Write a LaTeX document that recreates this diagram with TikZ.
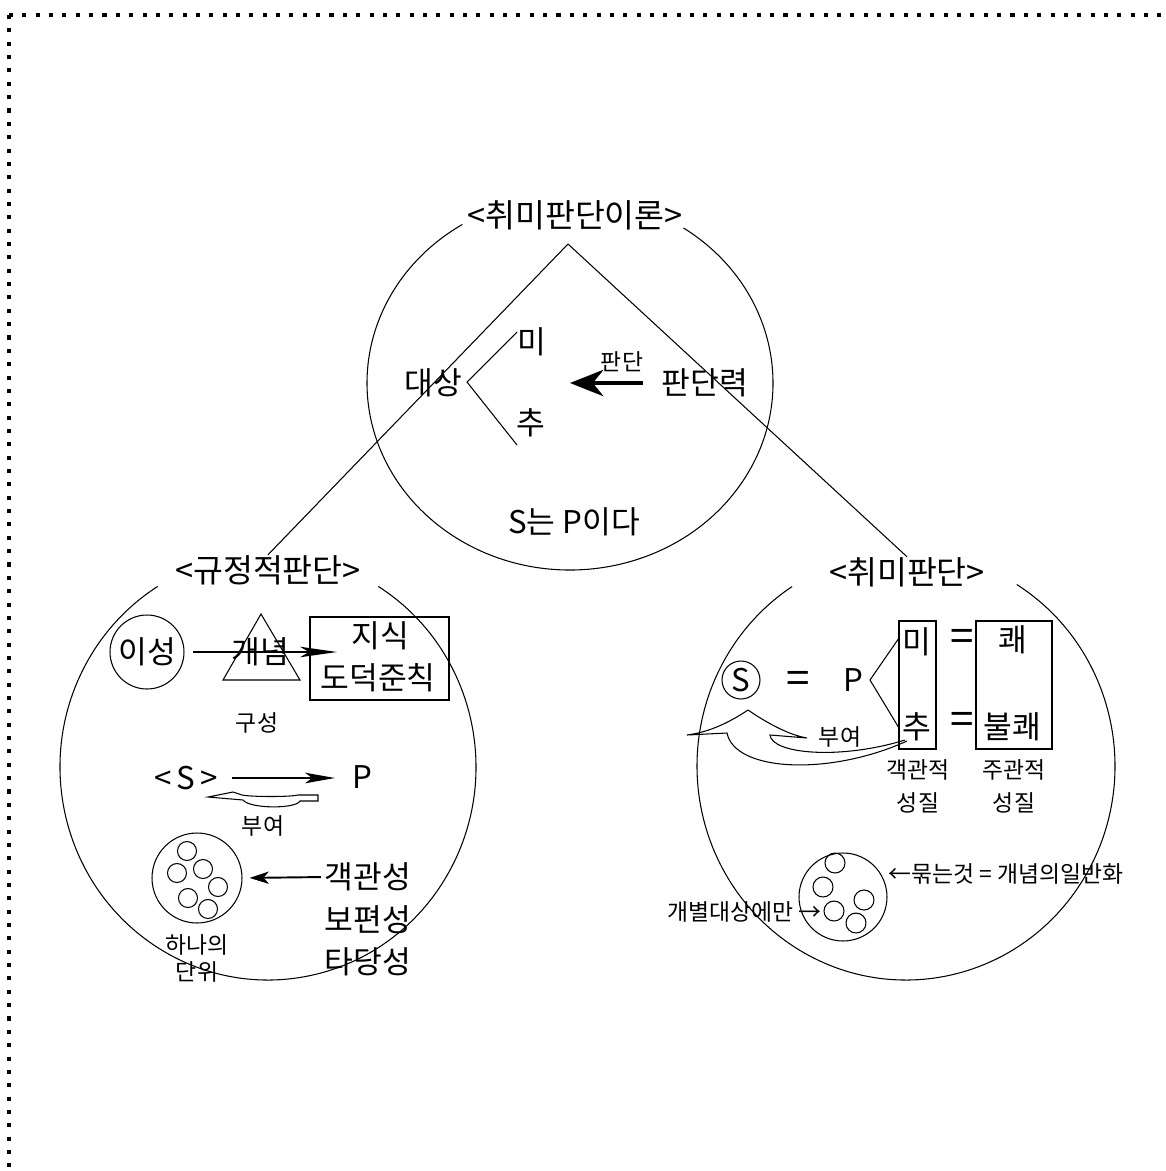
\documentclass[tikz,border=0pt]{standalone}
\usepackage{fontspec}
\setmainfont{Noto Sans CJK KR}
\usetikzlibrary{arrows.meta}
\tikzset{
    frame/.style={line width=2.3pt,dash pattern=on 2.3pt off 5.3pt},
    titletxt/.style={inner sep=0pt,font=\fontsize{18.5}{21}\selectfont},
    bigtxt/.style={inner sep=0pt,font=\fontsize{17.8}{20}\selectfont},
    eqtxt/.style={inner sep=0pt,font=\fontsize{24}{26}\selectfont},
    smalltxt/.style={inner sep=0pt,font=\fontsize{13}{15}\selectfont},
    longarrow/.style={line width=1.1pt,-{Stealth[length=21pt,width=6pt,inset=5pt]}},
    midarrow/.style={line width=1.1pt,-{Stealth[length=17pt,width=6pt,inset=4pt]}},
    shortarrow/.style={line width=1.1pt,-{Stealth[length=11pt,width=7pt,inset=3pt]}},
    fatarrow/.style={line width=2.4pt,-{Stealth[length=19pt,width=15pt,inset=6pt]}}
}
\begin{document}
\begin{tikzpicture}[x=0.02cm,y=-0.02cm,line width=0.6pt]
                        \useasboundingbox (0,0) rectangle (1166,1171);
                        \draw[frame] (9,15) -- (1166,15);
                        \draw[frame] (9,15) -- (9,1171);

                        % theory circle
                        \node[titletxt] (theory) at (575,215) {<취미판단이론>};
                        \draw (570,383) ++(-56:203 and 187) arc[start angle=-56,end angle=238,x radius=203,y radius=187];
                        \coordinate (apex) at (568,244);
                        \node[bigtxt] (object) at (433,383) {대상};
                        \node[bigtxt] (mi) at (532,342) {미};
                        \node[bigtxt] (chu) at (531,423) {추};
                        \coordinate (fork) at (467,382);
                        \coordinate (forkmi) at (517,332);
                        \coordinate (forkchu) at (517,445);
                        \draw (forkmi) -- (fork) -- (forkchu);
                        \node[bigtxt] (power) at (705,383) {판단력};
                        \coordinate (jtail) at (643,383);
                        \coordinate (jtip) at (570,383);
                        \draw[fatarrow] (jtail) -- (jtip);
                        \node[smalltxt] (judge) at (622,362) {판단};
                        \node[bigtxt] (sp) at (574,522) {S는 P이다};

                        % determining judgement
                        \node[titletxt] (rule) at (268,570) {<규정적판단>};
                        \draw (268,767) ++(-58:208 and 213) arc[start angle=-58,end angle=238,x radius=208,y radius=213];
                        \node[bigtxt,draw,circle,minimum size=1.48cm] (reason) at (147,652) {이성};
                        \draw (261,614) -- (300,680) -- (223,680) -- cycle;
                        \node[bigtxt] (concept) at (260,652) {개념};
                        \node[draw,minimum width=2.78cm,minimum height=1.66cm] (know) at (379.5,658.5) {};
                        \node[bigtxt] (know1) at (380,636) {지식};
                        \node[bigtxt] (know2) at (378,678) {도덕준칙};
                        \coordinate (ktip) at (337,652);
                        \draw[longarrow,shorten <=5pt] (reason) -- (ktip);
                        \node[smalltxt] (make) at (257,723) {구성};
                        \node[bigtxt] (subj) at (186,778) {<\,S\,>};
                        \node[bigtxt] (pred) at (362,777) {P};
                        \coordinate (stail) at (232,778);
                        \coordinate (stip) at (335,778);
                        \draw[midarrow] (stail) -- (stip);
                        \draw (318,795) -- (318,801) -- (300,801) .. controls (296,809) and (250,809) .. (243,800) -- (208,797) -- (233,792) -- (242,795) .. controls (252,797) and (290,797) .. (298,795) -- cycle;
                        \node[smalltxt] (give1) at (263,826) {부여};
                        \node[draw,circle,minimum size=1.8cm] (unit) at (197,878) {};
                        \draw (187,851) circle (9.5);
                        \draw (177,873) circle (9.5);
                        \draw (203,869) circle (9.5);
                        \draw (218,887) circle (9.5);
                        \draw (188,898) circle (9.5);
                        \draw (208,909) circle (9.5);
                        \node[bigtxt] (obj1) at (368,877) {객관성};
                        \node[bigtxt] (obj2) at (368,920) {보편성};
                        \node[bigtxt] (obj3) at (368,962) {타당성};
                        \draw[shortarrow,shorten >=4pt,shorten <=2pt] (obj1.west) -- (unit.east);
                        \node[smalltxt] (one1) at (197,945) {하나의};
                        \node[smalltxt] (one2) at (197,972) {단위};

                        % taste judgement
                        \node[titletxt] (taste) at (907,572) {<취미판단>};
                        \draw (906,766) ++(-58:209 and 214) arc[start angle=-58,end angle=237,x radius=209,y radius=214];
                        \draw (apex) -- (rule.north);
                        \draw (apex) -- (taste.north);
                        \node[bigtxt,draw,circle,minimum size=0.76cm] (s) at (741,680) {S};
                        \node[eqtxt] (eq1) at (798,682) {=};
                        \node[bigtxt] (p) at (853,680) {P};
                        \node[draw,minimum width=0.74cm,minimum height=2.56cm] (propbox) at (917.5,685) {};
                        \node[draw,minimum width=1.52cm,minimum height=2.56cm] (feelbox) at (1014,685) {};
                        \node[bigtxt] (mi2) at (917,642) {미};
                        \node[bigtxt] (chu2) at (917,727) {추};
                        \node[eqtxt] (eq2) at (962,640) {=};
                        \node[eqtxt] (eq3) at (962,723) {=};
                        \node[bigtxt] (joy) at (1013,640) {쾌};
                        \node[bigtxt] (pain) at (1012,727) {불쾌};
                        \coordinate (pv) at (870,680);
                        \coordinate (pmi) at (899,638);
                        \coordinate (pchu) at (899,728);
                        \draw (pmi) -- (pv) -- (pchu);
                        \node[smalltxt] (objq1) at (918,770) {객관적};
                        \node[smalltxt] (objq2) at (918,803) {성질};
                        \node[smalltxt] (subq1) at (1014,770) {주관적};
                        \node[smalltxt] (subq2) at (1014,803) {성질};
                        \draw (748,710) .. controls (770,725) and (790,735) .. (807,738) -- (770,735) .. controls (772,754) and (840,760) .. (905,740);
                        \draw (748,710) .. controls (730,722) and (710,732) .. (687,735) -- (727,733) .. controls (735,772) and (830,776) .. (907,741);
                        \node[smalltxt] (give2) at (840,737) {부여};
                        \node[draw,circle,minimum size=1.76cm] (bundle) at (843,897) {};
                        \draw (835,863) circle (10);
                        \draw (823,887) circle (10);
                        \draw (834,911) circle (10);
                        \draw (864,900) circle (10);
                        \draw (856,923) circle (10);
                        \node[smalltxt,anchor=west] (tie) at (888,874) {←묶는것 = 개념의일반화};
                        \node[smalltxt,anchor=east] (each) at (822,912) {개별대상에만 →};
\end{tikzpicture}
\end{document}
